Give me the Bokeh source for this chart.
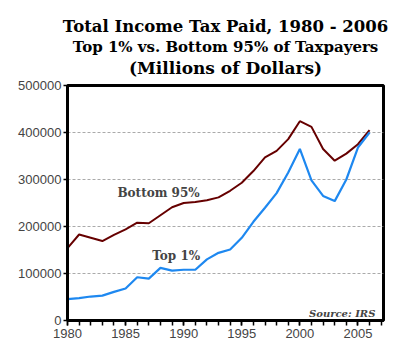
from bokeh.plotting import figure
from bokeh.models import Title, Label, Range1d, FixedTicker, NumeralTickFormatter
from bokeh.embed import file_html
from bokeh.resources import INLINE

years = list(range(1980, 2007))
bottom95 = [154000, 183000, 176000, 169000, 182000, 194000, 208000, 207000, 224000, 241000,
            250000, 252000, 256000, 262000, 276000, 293000, 318000, 347000, 361000, 386000,
            424000, 412000, 365000, 340000, 355000, 375000, 405000]
top1 = [45500, 47700, 51000, 53000, 61000, 68000, 92000, 89000, 112000, 106000,
        108000, 108000, 130000, 144000, 151000, 176000, 210000, 240000, 271000, 315000,
        365000, 298000, 265000, 254000, 300000, 368000, 400000]
title_lines = ["Total Income Tax Paid, 1980 - 2006",
               "Top 1% vs. Bottom 95% of Taxpayers",
               "(Millions of Dollars)"]
y_ticks = [0, 100000, 200000, 300000, 400000, 500000]
x_ticks = [1980, 1985, 1990, 1995, 2000, 2005]

p = figure(width=400, height=356, output_backend="svg", toolbar_location=None,
           x_range=Range1d(1980, 2007.2), y_range=Range1d(0, 500000),
           min_border_left=67, min_border_right=17, min_border_bottom=36, min_border_top=85)

serif = "DejaVu Serif"
sizes = ["16.5px", "15px", "17px"]
# spacer nearest the frame
p.add_layout(Title(text=" ", text_font_size="6px", standoff=0, offset=0), "above")
for t, s in reversed(list(zip(title_lines, sizes))):
    p.add_layout(Title(text=t, align="center", text_font=serif, text_font_size=s,
                       text_font_style="bold", text_color="black", standoff=0, offset=0), "above")

p.outline_line_color = "black"
p.outline_line_width = 3
p.background_fill_color = "white"
p.border_fill_color = "white"

p.xgrid.grid_line_color = None
p.ygrid.grid_line_color = "#aaaaaa"
p.ygrid.grid_line_dash = "3 2"
p.ygrid.grid_line_width = 1

p.yaxis.ticker = FixedTicker(ticks=y_ticks)
p.yaxis.formatter = NumeralTickFormatter(format="0")
p.xaxis.ticker = FixedTicker(ticks=x_ticks, minor_ticks=years + [2007])

for ax in (p.xaxis[0], p.yaxis[0]):
    ax.axis_line_color = "black"
    ax.axis_line_width = 3
    ax.major_tick_line_color = "black"
    ax.major_tick_line_width = 1.5
    ax.minor_tick_line_color = "black"
    ax.minor_tick_line_width = 1.5
    ax.major_label_text_font = "Liberation Sans"
    ax.major_label_text_font_size = "13px"
    ax.major_label_text_color = "#444444"
    ax.major_tick_in = 0
    ax.minor_tick_in = 0
p.xaxis.major_tick_out = 5
p.xaxis.minor_tick_out = 5
p.yaxis.major_tick_out = 4
p.yaxis.minor_tick_out = 0
p.xaxis.major_label_standoff = 3
p.yaxis.major_label_standoff = 2

p.line(years, bottom95, line_color="#660000", line_width=2)
p.line(years, top1, line_color="#1E88F0", line_width=2.2)

p.add_layout(Label(x=1984.3, y=272000, text="Bottom 95%", text_font=serif, text_font_size="12px",
                   text_font_style="bold", text_baseline="middle", text_align="left"))
p.add_layout(Label(x=1987.3, y=137000, text="Top 1%", text_font=serif, text_font_size="12px",
                   text_font_style="bold", text_baseline="middle", text_align="left"))
p.add_layout(Label(x=2006.5, y=15600, text="Source: IRS", text_font=serif, text_font_size="10px",
                   text_font_style="bold italic", text_baseline="middle", text_align="right"))

open("out.html", "w").write(file_html(p, INLINE))
